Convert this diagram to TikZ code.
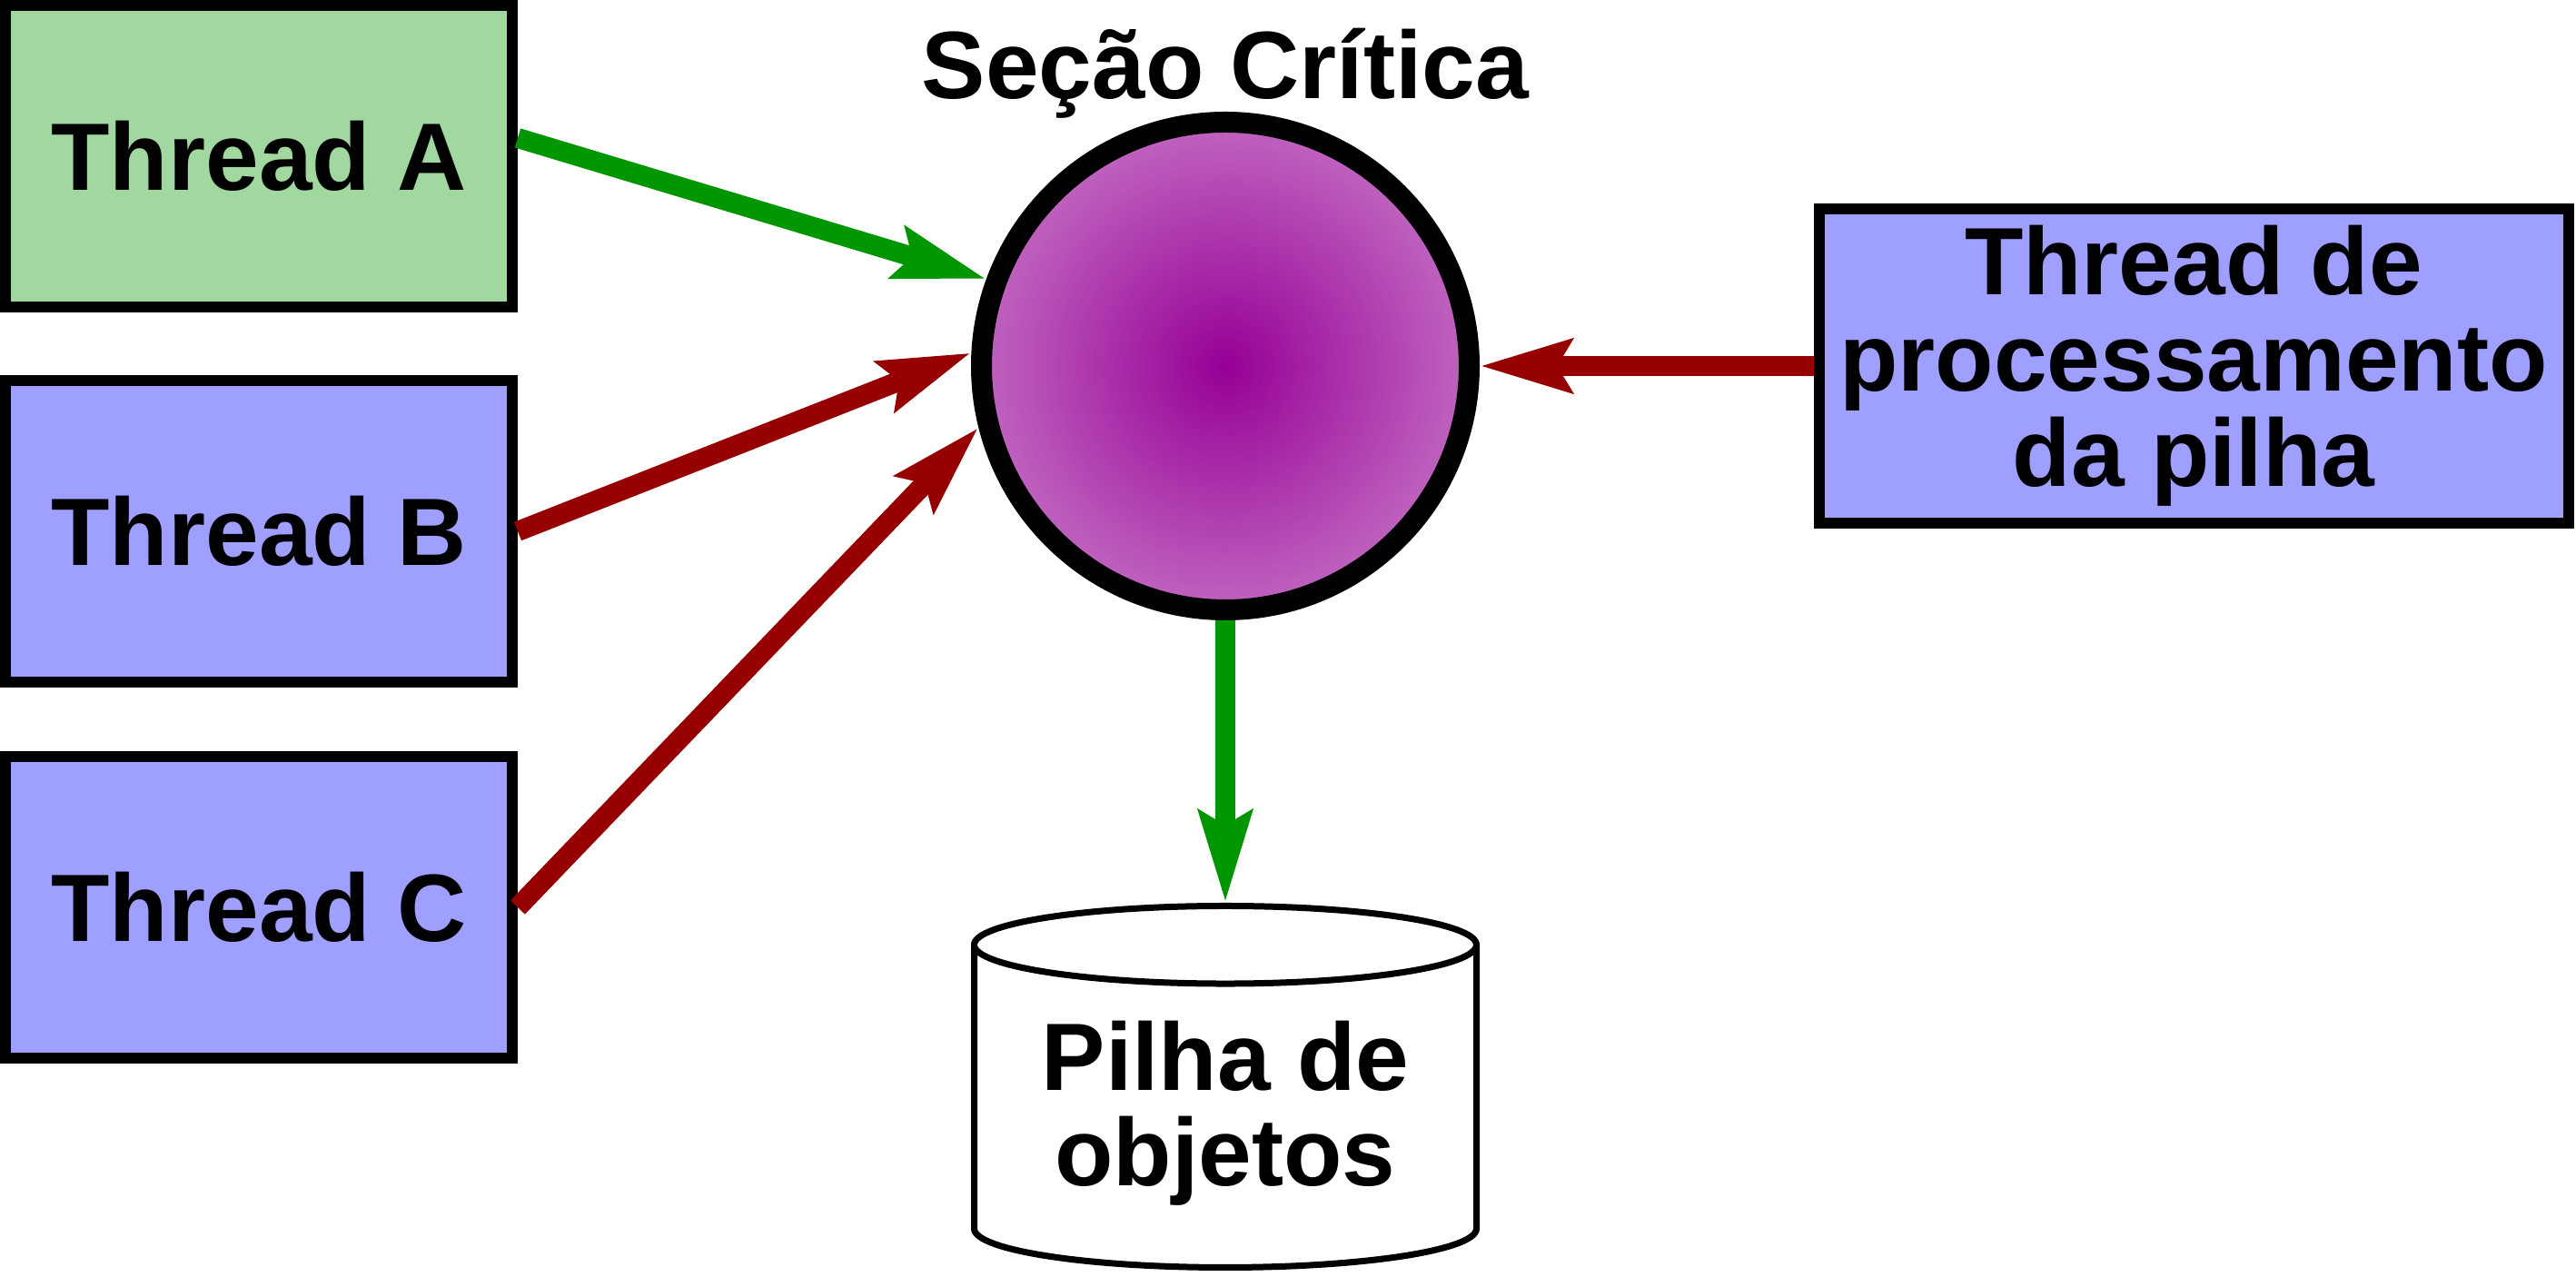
\documentclass[tikz,border=0pt]{standalone}
\usepackage{fontspec}
\setmainfont{Liberation Sans}
\usepackage{xcolor}
\usetikzlibrary{arrows.meta,positioning,shapes.geometric}

\definecolor{threadgreen}{RGB}{160,216,160}
\definecolor{threadblue}{RGB}{159,159,255}
\definecolor{okgreen}{RGB}{0,150,0}
\definecolor{waitred}{RGB}{150,0,0}
\definecolor{critin}{RGB}{150,0,150}
\definecolor{critout}{RGB}{208,140,208}
\pgfdeclareradialshading{critshade}{\pgfpoint{0bp}{0bp}}{color(0bp)=(critin); color(35bp)=(critout); color(50bp)=(critout)}

\begin{document}
\begin{tikzpicture}[
    font=\fontsize{30}{30}\selectfont\bfseries,
    box/.style={draw, line width=0.12cm, minimum width=5.58cm, minimum height=3.32cm, align=center, inner sep=0pt},
    crit/.style={circle, draw, line width=0.23cm, minimum size=5.37cm, shading=critshade},
    store/.style={cylinder, shape border rotate=90, draw, line width=0.07cm, aspect=0.2, minimum width=5.53cm, minimum height=3.98cm, align=center, fill=white},
    go/.style={draw=okgreen, line width=0.22cm, -{Stealth[length=1cm, width=0.57cm, inset=0.15cm]}},
    wait/.style={go, draw=waitred}
  ]
    \useasboundingbox (0,0) rectangle (28.36,14.06);
    \node[box, fill=threadgreen] (thA) at (2.85,12.34) {Thread A};
    \node[box, fill=threadblue, below=0.69cm of thA] (thB) {Thread B};
    \node[box, fill=threadblue, below=0.70cm of thB] (thC) {Thread C};
    \node[crit] (sec) at (13.49,10.03) {};
    \node[above=0.14cm of sec, anchor=base] (title) {Seção Crítica};
    \node[box, fill=threadblue, minimum width=8.25cm, minimum height=3.46cm] (proc) at (24.15,10.03) {Thread de\\processamento\\da pilha};
    \node[store, below=3.11cm of sec] (pilha) {Pilha de\\objetos};
    \draw[go] ([yshift=0.2cm]thA.east) -- (sec.160);
    \draw[wait] (thB.east) -- (sec.177);
    \draw[wait] (thC.east) -- (sec.194);
    \draw[wait] (proc.west) -- (sec.east);
    \draw[go] (sec.south) -- (pilha.north);
  \end{tikzpicture}
\end{document}
